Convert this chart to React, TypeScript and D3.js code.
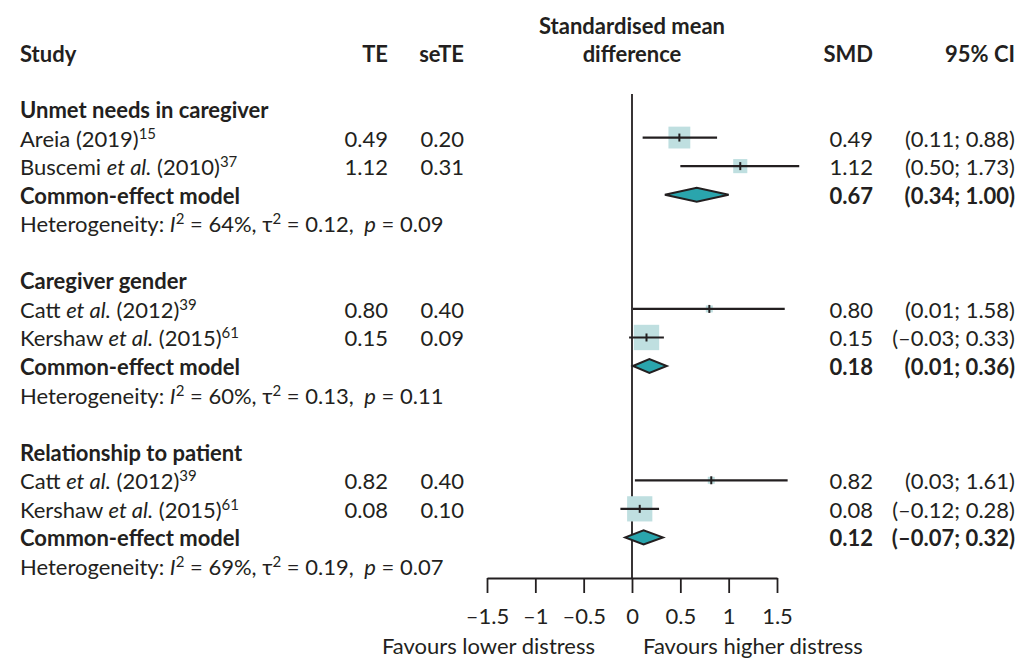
import { useEffect, useRef } from 'react';
import * as d3 from 'd3';

// forest plot data
const groups = ['Unmet needs in caregiver', 'Caregiver gender', 'Relationship to patient'];
const studyAuthors = ['Areia', 'Buscemi', 'Catt', 'Kershaw', 'Catt', 'Kershaw'];
const studyEtAl = [false, true, true, true, true, true];
const studyYears = ['2019', '2010', '2012', '2015', '2012', '2015'];
const studyRefs = ['15', '37', '39', '61', '39', '61'];
const studyGroup = [0, 0, 1, 1, 2, 2];
const te = [0.49, 1.12, 0.8, 0.15, 0.82, 0.08];
const seTE = [0.2, 0.31, 0.4, 0.09, 0.4, 0.1];
const ciLower = [0.11, 0.5, 0.01, -0.03, 0.03, -0.12];
const ciUpper = [0.88, 1.73, 1.58, 0.33, 1.61, 0.28];
const pooledSMD = [0.67, 0.18, 0.12];
const pooledLower = [0.34, 0.01, -0.07];
const pooledUpper = [1.0, 0.36, 0.32];
const hetI2 = ['64%', '60%', '69%'];
const hetTau2 = ['0.12', '0.13', '0.19'];
const hetP = ['0.09', '0.11', '0.07'];
const axisTicks = [-1.5, -1, -0.5, 0, 0.5, 1, 1.5];

const INK = '#231f20';
const FONT = 'Lato, "Open Sans", sans-serif';
const FS = 22;
const SUP = 15;
const RAISE = 8;

const fmt = (v: number) => {
  const s = v.toFixed(2);
  return v < 0 ? '\u2013' + s.slice(1) : s;
};
const ci = (lo: number, hi: number) => `(${fmt(lo)}; ${fmt(hi)})`;

export default function App() {
  const axisRef = useRef<SVGGElement>(null);

  const width = 1021;
  const height = 660;

  const x = d3.scaleLinear().domain([-1.5, 1.5]).range([487, 777]);
  // row index -> text baseline
  const row = d3.scaleLinear().domain([0, 1]).range([118, 146.56]);

  // build row layout
  type Row = { kind: string; g: number; i?: number; r: number };
  const rows: Row[] = [];
  let r = 0;
  groups.forEach((_, g) => {
    rows.push({ kind: 'header', g, r: r++ });
    studyGroup.forEach((sg, i) => {
      if (sg === g) rows.push({ kind: 'study', g, i, r: r++ });
    });
    rows.push({ kind: 'pooled', g, r: r++ });
    rows.push({ kind: 'het', g, r: r++ });
    r++;
  });

  // box size from within-group weight
  const weights = seTE.map(s => 1 / (s * s));
  const groupTotals = groups.map((_, g) =>
    d3.sum(weights.filter((_, i) => studyGroup[i] === g))
  );
  const boxSize = d3.scaleSqrt().domain([0, 1]).range([0, 26]);

  const markY = (rr: number) => row(rr) - 9;
  const axisY = 578;
  const lastRow = rows[rows.length - 1].r;

  useEffect(() => {
    const g = d3.select(axisRef.current);
    g.selectAll('*').remove();
    g.call(
      d3.axisBottom(x)
        .tickValues(axisTicks)
        .tickSize(15)
        .tickSizeOuter(0)
        .tickPadding(15)
        .tickFormat(d => {
          const v = +d;
          return v < 0 ? '\u2013' + String(-v) : String(v);
        }) as any
    );
    g.select('.domain').attr('stroke', INK).attr('stroke-width', 1.8);
    g.selectAll('.tick line').attr('stroke', INK).attr('stroke-width', 1.8);
    g.selectAll('.tick text')
      .attr('fill', INK)
      .style('font-size', FS + 'px')
      .style('font-family', FONT);
  }, []);

  return (
    <svg
      width={width}
      height={height}
      style={{ position: 'absolute', left: 0, top: 0, background: '#fff' }}
      fontFamily={FONT}
      fontSize={FS}
      fill={INK}
    >
      {/* column headers */}
      <g fontWeight="bold">
        <text x={20} y={62}>Study</text>
        <text x={388} y={62} textAnchor="end">TE</text>
        <text x={464} y={62} textAnchor="end">seTE</text>
        <text x={x(0)} y={33.5} textAnchor="middle">Standardised mean</text>
        <text x={x(0)} y={62} textAnchor="middle">difference</text>
        <text x={873} y={62} textAnchor="end">SMD</text>
        <text x={1015} y={62} textAnchor="end">95% CI</text>
      </g>

      {/* reference line */}
      <line x1={x(0)} x2={x(0)} y1={94} y2={axisY} stroke={INK} strokeWidth={1.8} />

      {rows.map(d => {
        const y = row(d.r);
        if (d.kind === 'header') {
          return (
            <text key={'h' + d.g} x={20} y={y} fontWeight="bold">{groups[d.g]}</text>
          );
        }
        if (d.kind === 'study') {
          const i = d.i as number;
          const s = Math.max(7, boxSize(weights[i] / groupTotals[d.g]));
          const my = markY(d.r);
          return (
            <g key={'s' + i}>
              <text x={20} y={y}>
                {studyAuthors[i] + ' '}
                {studyEtAl[i] && <tspan fontStyle="italic">et al.</tspan>}
                {(studyEtAl[i] ? ' ' : '') + '(' + studyYears[i] + ')'}
                <tspan dy={-RAISE} fontSize={SUP}>{studyRefs[i]}</tspan>
              </text>
              <text x={388} y={y} textAnchor="end">{te[i].toFixed(2)}</text>
              <text x={464} y={y} textAnchor="end">{seTE[i].toFixed(2)}</text>
              <text x={873} y={y} textAnchor="end">{fmt(te[i])}</text>
              <text x={1015} y={y} textAnchor="end">{ci(ciLower[i], ciUpper[i])}</text>
              <rect x={x(te[i]) - s / 2} y={my - s / 2} width={s} height={s} fill="#bfdfe0" />
              <line x1={x(ciLower[i])} x2={x(ciUpper[i])} y1={my} y2={my} stroke={INK} strokeWidth={2.2} />
              <line x1={x(te[i])} x2={x(te[i])} y1={my - 4} y2={my + 4} stroke={INK} strokeWidth={2} />
            </g>
          );
        }
        if (d.kind === 'pooled') {
          const g = d.g;
          const my = markY(d.r);
          const pts: [number, number][] = [
            [x(pooledLower[g]), my],
            [x(pooledSMD[g]), my - 7],
            [x(pooledUpper[g]), my],
            [x(pooledSMD[g]), my + 7],
          ];
          return (
            <g key={'p' + g}>
              <text x={20} y={y} fontWeight="bold">Common-effect model</text>
              <text x={873} y={y} textAnchor="end" fontWeight="bold">{fmt(pooledSMD[g])}</text>
              <text x={1015} y={y} textAnchor="end" fontWeight="bold">
                {ci(pooledLower[g], pooledUpper[g])}
              </text>
              <path
                d={(d3.line()(pts) as string) + 'Z'}
                fill="#2aa5ad"
                stroke={INK}
                strokeWidth={2}
                strokeLinejoin="miter"
              />
            </g>
          );
        }
        return (
          <text key={'het' + d.g} x={20} y={y}>
            Heterogeneity: <tspan fontStyle="italic">I</tspan>
            <tspan dy={-RAISE} fontSize={SUP}>2</tspan>
            <tspan dy={RAISE}>{' = ' + hetI2[d.g] + ', \u03c4'}</tspan>
            <tspan dy={-RAISE} fontSize={SUP}>2</tspan>
            <tspan dy={RAISE}>{' = ' + hetTau2[d.g] + ', '}</tspan>
            <tspan fontStyle="italic" dx={5}>p</tspan>
            <tspan>{' = ' + hetP[d.g]}</tspan>
          </text>
        );
      })}

      <g ref={axisRef} transform={`translate(0,${axisY})`} />

      <text x={595} y={row(lastRow) + 79} textAnchor="end">Favours lower distress</text>
      <text x={643} y={row(lastRow) + 79}>Favours higher distress</text>
    </svg>
  );
}
